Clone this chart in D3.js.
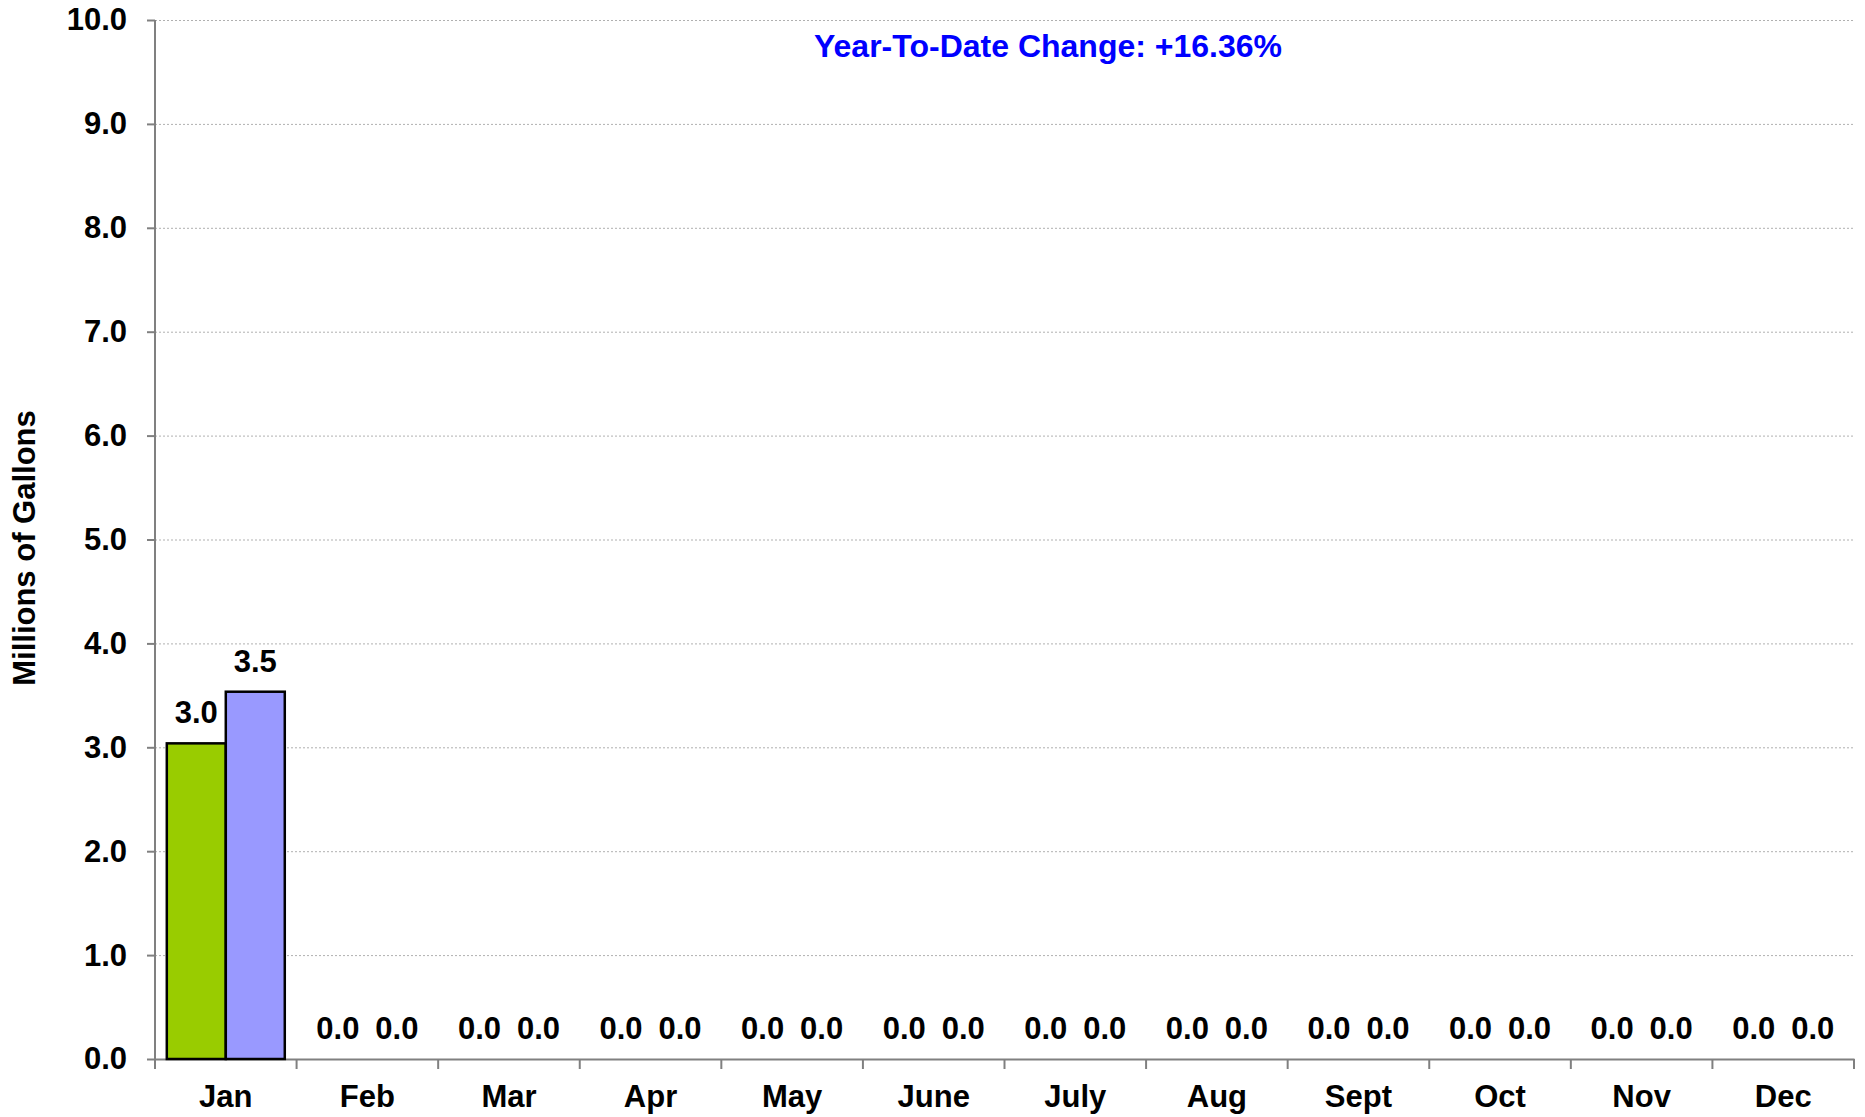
<!DOCTYPE html>
<html>
<head>
<meta charset="utf-8">
<script src="https://cdn.jsdelivr.net/npm/d3@7"></script>
<style>
  body { margin: 0; background: #fff; }
  text { font-family: "Liberation Sans", Arial, sans-serif; font-weight: bold; }
</style>
</head>
<body>
<script>
var width = 1865,
  height = 1117;

// data
var months = ["Jan", "Feb", "Mar", "Apr", "May", "June", "July", "Aug", "Sept", "Oct", "Nov", "Dec"];
var series = ["prev", "curr"];
var prevYear = [3.038, 0, 0, 0, 0, 0, 0, 0, 0, 0, 0, 0];
var currYear = [3.535, 0, 0, 0, 0, 0, 0, 0, 0, 0, 0, 0];
var yTicks = [0, 1, 2, 3, 4, 5, 6, 7, 8, 9, 10];
var couleur = { prev: "#99CC00", curr: "#9999FF" };

var rows = months.map(function (m, i) {
  return { month: m, prev: prevYear[i], curr: currYear[i] };
});

var plot = { left: 155, right: 1854, top: 20, bottom: 1059 };
var fs = "31px";

var svg = d3
  .select("body")
  .append("svg")
  .attr("width", width)
  .attr("height", height);

var x0 = d3.scaleBand().domain(months).range([plot.left, plot.right]).padding(0);
var x1 = d3.scaleBand().domain(series).range([0, x0.bandwidth()]).paddingInner(0).paddingOuter(0.2);
var y = d3.scaleLinear().domain([0, 10]).range([plot.bottom, plot.top]);

// gridlines
svg.append("g")
  .selectAll("line")
  .data(yTicks.slice(1))
  .enter()
  .append("line")
  .attr("x1", plot.left)
  .attr("x2", plot.right)
  .attr("y1", function (d) { return y(d) + 0.5; })
  .attr("y2", function (d) { return y(d) + 0.5; })
  .attr("stroke", "#b0b0b0")
  .attr("stroke-width", 1)
  .attr("stroke-dasharray", "2,2");

// y axis
var yAxis = svg.append("g")
  .attr("transform", "translate(" + plot.left + ",0)")
  .call(d3.axisLeft(y).tickValues(yTicks).tickSize(8).tickPadding(20).tickFormat(d3.format(".1f")));
yAxis.select(".domain").attr("stroke", "#808080").attr("stroke-width", 2).attr("d", "M0," + plot.top + "V" + (plot.bottom + 10));
yAxis.selectAll(".tick line").attr("stroke", "#808080").attr("stroke-width", 2);
yAxis.selectAll(".tick text")
  .style("font-size", fs)
  .style("font-family", "'Liberation Sans', Arial, sans-serif")
  .style("font-weight", "bold")
  .attr("fill", "#000");

// x axis
var xAxis = svg.append("g")
  .attr("transform", "translate(0," + plot.bottom + ")")
  .call(d3.axisBottom(x0).tickSize(0).tickPadding(26));
xAxis.select(".domain").attr("stroke", "#808080").attr("stroke-width", 2);
xAxis.selectAll(".tick text")
  .style("font-size", fs)
  .style("font-family", "'Liberation Sans', Arial, sans-serif")
  .style("font-weight", "bold")
  .attr("fill", "#000");
// category boundary ticks
xAxis.append("g")
  .selectAll("line")
  .data(months)
  .enter()
  .append("line")
  .attr("x1", function (d) { return x0(d) + x0.bandwidth(); })
  .attr("x2", function (d) { return x0(d) + x0.bandwidth(); })
  .attr("y1", 0)
  .attr("y2", 10)
  .attr("stroke", "#808080")
  .attr("stroke-width", 2);

// bars
var groups = svg.append("g")
  .selectAll("g")
  .data(rows)
  .enter()
  .append("g")
  .attr("transform", function (d) { return "translate(" + x0(d.month) + ",0)"; });

groups.selectAll("rect")
  .data(function (d) {
    return series.map(function (s) { return { key: s, value: d[s] }; });
  })
  .enter()
  .filter(function (d) { return d.value > 0; })
  .append("rect")
  .attr("x", function (d) { return x1(d.key); })
  .attr("y", function (d) { return y(d.value); })
  .attr("width", x1.bandwidth())
  .attr("height", function (d) { return y(0) - y(d.value); })
  .attr("fill", function (d) { return couleur[d.key]; })
  .attr("stroke", "#000")
  .attr("stroke-width", 2.5);

groups.selectAll("text")
  .data(function (d) {
    return series.map(function (s) { return { key: s, value: d[s] }; });
  })
  .enter()
  .append("text")
  .attr("x", function (d) { return x1(d.key) + x1.bandwidth() / 2; })
  .attr("y", function (d) { return y(d.value) - 20; })
  .attr("text-anchor", "middle")
  .style("font-size", fs)
  .attr("fill", "#000")
  .text(function (d) { return d3.format(".1f")(d.value); });

// y axis title
svg.append("text")
  .attr("transform", "translate(35,548) rotate(-90)")
  .attr("text-anchor", "middle")
  .style("font-size", fs)
  .attr("fill", "#000")
  .text("Millions of Gallons");

// year-to-date note
svg.append("text")
  .attr("x", 1048)
  .attr("y", 57)
  .attr("text-anchor", "middle")
  .style("font-size", "32px")
  .attr("fill", "#0000FF")
  .text("Year-To-Date Change: +16.36%");
</script>
</body>
</html>
